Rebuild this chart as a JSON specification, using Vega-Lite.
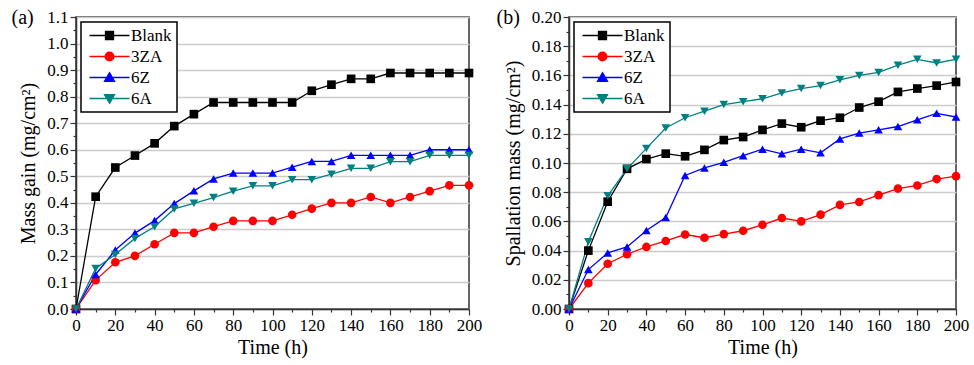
{
  "$schema": "https://vega.github.io/schema/vega-lite/v6.json",
  "background": "white",
  "padding": {"left": 10, "top": 6, "right": 5, "bottom": 4},
  "spacing": 100,
  "bounds": "flush",
  "datasets": {
    "massgain": [
      {"series": "Blank", "t": 0, "v": 0}, {"series": "Blank", "t": 10, "v": 0.423}, {"series": "Blank", "t": 20, "v": 0.533}, {"series": "Blank", "t": 30, "v": 0.578}, {"series": "Blank", "t": 40, "v": 0.624}, {"series": "Blank", "t": 50, "v": 0.689}, {"series": "Blank", "t": 60, "v": 0.734}, {"series": "Blank", "t": 70, "v": 0.778}, {"series": "Blank", "t": 80, "v": 0.778}, {"series": "Blank", "t": 90, "v": 0.778}, {"series": "Blank", "t": 100, "v": 0.778}, {"series": "Blank", "t": 110, "v": 0.778}, {"series": "Blank", "t": 120, "v": 0.822}, {"series": "Blank", "t": 130, "v": 0.845}, {"series": "Blank", "t": 140, "v": 0.867}, {"series": "Blank", "t": 150, "v": 0.867}, {"series": "Blank", "t": 160, "v": 0.889}, {"series": "Blank", "t": 170, "v": 0.889}, {"series": "Blank", "t": 180, "v": 0.889}, {"series": "Blank", "t": 190, "v": 0.889}, {"series": "Blank", "t": 200, "v": 0.889},
      {"series": "3ZA", "t": 0, "v": 0}, {"series": "3ZA", "t": 10, "v": 0.109}, {"series": "3ZA", "t": 20, "v": 0.176}, {"series": "3ZA", "t": 30, "v": 0.2}, {"series": "3ZA", "t": 40, "v": 0.244}, {"series": "3ZA", "t": 50, "v": 0.287}, {"series": "3ZA", "t": 60, "v": 0.287}, {"series": "3ZA", "t": 70, "v": 0.31}, {"series": "3ZA", "t": 80, "v": 0.332}, {"series": "3ZA", "t": 90, "v": 0.332}, {"series": "3ZA", "t": 100, "v": 0.332}, {"series": "3ZA", "t": 110, "v": 0.355}, {"series": "3ZA", "t": 120, "v": 0.378}, {"series": "3ZA", "t": 130, "v": 0.4}, {"series": "3ZA", "t": 140, "v": 0.4}, {"series": "3ZA", "t": 150, "v": 0.422}, {"series": "3ZA", "t": 160, "v": 0.4}, {"series": "3ZA", "t": 170, "v": 0.422}, {"series": "3ZA", "t": 180, "v": 0.444}, {"series": "3ZA", "t": 190, "v": 0.466}, {"series": "3ZA", "t": 200, "v": 0.466},
      {"series": "6Z", "t": 0, "v": 0}, {"series": "6Z", "t": 10, "v": 0.13}, {"series": "6Z", "t": 20, "v": 0.222}, {"series": "6Z", "t": 30, "v": 0.286}, {"series": "6Z", "t": 40, "v": 0.333}, {"series": "6Z", "t": 50, "v": 0.397}, {"series": "6Z", "t": 60, "v": 0.445}, {"series": "6Z", "t": 70, "v": 0.49}, {"series": "6Z", "t": 80, "v": 0.512}, {"series": "6Z", "t": 90, "v": 0.512}, {"series": "6Z", "t": 100, "v": 0.512}, {"series": "6Z", "t": 110, "v": 0.534}, {"series": "6Z", "t": 120, "v": 0.556}, {"series": "6Z", "t": 130, "v": 0.556}, {"series": "6Z", "t": 140, "v": 0.579}, {"series": "6Z", "t": 150, "v": 0.579}, {"series": "6Z", "t": 160, "v": 0.579}, {"series": "6Z", "t": 170, "v": 0.579}, {"series": "6Z", "t": 180, "v": 0.6}, {"series": "6Z", "t": 190, "v": 0.6}, {"series": "6Z", "t": 200, "v": 0.6},
      {"series": "6A", "t": 0, "v": 0}, {"series": "6A", "t": 10, "v": 0.153}, {"series": "6A", "t": 20, "v": 0.205}, {"series": "6A", "t": 30, "v": 0.266}, {"series": "6A", "t": 40, "v": 0.31}, {"series": "6A", "t": 50, "v": 0.377}, {"series": "6A", "t": 60, "v": 0.398}, {"series": "6A", "t": 70, "v": 0.42}, {"series": "6A", "t": 80, "v": 0.444}, {"series": "6A", "t": 90, "v": 0.464}, {"series": "6A", "t": 100, "v": 0.464}, {"series": "6A", "t": 110, "v": 0.487}, {"series": "6A", "t": 120, "v": 0.487}, {"series": "6A", "t": 130, "v": 0.508}, {"series": "6A", "t": 140, "v": 0.53}, {"series": "6A", "t": 150, "v": 0.53}, {"series": "6A", "t": 160, "v": 0.555}, {"series": "6A", "t": 170, "v": 0.555}, {"series": "6A", "t": 180, "v": 0.579}, {"series": "6A", "t": 190, "v": 0.579}, {"series": "6A", "t": 200, "v": 0.579}
    ],
    "spallation": [
      {"series": "Blank", "t": 0, "v": 0}, {"series": "Blank", "t": 10, "v": 0.04}, {"series": "Blank", "t": 20, "v": 0.0735}, {"series": "Blank", "t": 30, "v": 0.096}, {"series": "Blank", "t": 40, "v": 0.1027}, {"series": "Blank", "t": 50, "v": 0.1064}, {"series": "Blank", "t": 60, "v": 0.1046}, {"series": "Blank", "t": 70, "v": 0.109}, {"series": "Blank", "t": 80, "v": 0.1157}, {"series": "Blank", "t": 90, "v": 0.1178}, {"series": "Blank", "t": 100, "v": 0.1227}, {"series": "Blank", "t": 110, "v": 0.127}, {"series": "Blank", "t": 120, "v": 0.1245}, {"series": "Blank", "t": 130, "v": 0.129}, {"series": "Blank", "t": 140, "v": 0.131}, {"series": "Blank", "t": 150, "v": 0.138}, {"series": "Blank", "t": 160, "v": 0.142}, {"series": "Blank", "t": 170, "v": 0.1487}, {"series": "Blank", "t": 180, "v": 0.151}, {"series": "Blank", "t": 190, "v": 0.153}, {"series": "Blank", "t": 200, "v": 0.1555},
      {"series": "3ZA", "t": 0, "v": 0}, {"series": "3ZA", "t": 10, "v": 0.0177}, {"series": "3ZA", "t": 20, "v": 0.031}, {"series": "3ZA", "t": 30, "v": 0.0375}, {"series": "3ZA", "t": 40, "v": 0.0425}, {"series": "3ZA", "t": 50, "v": 0.0466}, {"series": "3ZA", "t": 60, "v": 0.051}, {"series": "3ZA", "t": 70, "v": 0.0488}, {"series": "3ZA", "t": 80, "v": 0.0513}, {"series": "3ZA", "t": 90, "v": 0.0536}, {"series": "3ZA", "t": 100, "v": 0.0577}, {"series": "3ZA", "t": 110, "v": 0.0623}, {"series": "3ZA", "t": 120, "v": 0.06}, {"series": "3ZA", "t": 130, "v": 0.0646}, {"series": "3ZA", "t": 140, "v": 0.0713}, {"series": "3ZA", "t": 150, "v": 0.0733}, {"series": "3ZA", "t": 160, "v": 0.078}, {"series": "3ZA", "t": 170, "v": 0.0825}, {"series": "3ZA", "t": 180, "v": 0.0846}, {"series": "3ZA", "t": 190, "v": 0.089}, {"series": "3ZA", "t": 200, "v": 0.091},
      {"series": "6Z", "t": 0, "v": 0}, {"series": "6Z", "t": 10, "v": 0.027}, {"series": "6Z", "t": 20, "v": 0.0384}, {"series": "6Z", "t": 30, "v": 0.0425}, {"series": "6Z", "t": 40, "v": 0.0538}, {"series": "6Z", "t": 50, "v": 0.0627}, {"series": "6Z", "t": 60, "v": 0.0915}, {"series": "6Z", "t": 70, "v": 0.0966}, {"series": "6Z", "t": 80, "v": 0.1005}, {"series": "6Z", "t": 90, "v": 0.105}, {"series": "6Z", "t": 100, "v": 0.1095}, {"series": "6Z", "t": 110, "v": 0.1063}, {"series": "6Z", "t": 120, "v": 0.1095}, {"series": "6Z", "t": 130, "v": 0.107}, {"series": "6Z", "t": 140, "v": 0.1165}, {"series": "6Z", "t": 150, "v": 0.1205}, {"series": "6Z", "t": 160, "v": 0.1227}, {"series": "6Z", "t": 170, "v": 0.125}, {"series": "6Z", "t": 180, "v": 0.1296}, {"series": "6Z", "t": 190, "v": 0.134}, {"series": "6Z", "t": 200, "v": 0.1315},
      {"series": "6A", "t": 0, "v": 0}, {"series": "6A", "t": 10, "v": 0.046}, {"series": "6A", "t": 20, "v": 0.0775}, {"series": "6A", "t": 30, "v": 0.096}, {"series": "6A", "t": 40, "v": 0.11}, {"series": "6A", "t": 50, "v": 0.124}, {"series": "6A", "t": 60, "v": 0.131}, {"series": "6A", "t": 70, "v": 0.1355}, {"series": "6A", "t": 80, "v": 0.14}, {"series": "6A", "t": 90, "v": 0.142}, {"series": "6A", "t": 100, "v": 0.144}, {"series": "6A", "t": 110, "v": 0.148}, {"series": "6A", "t": 120, "v": 0.151}, {"series": "6A", "t": 130, "v": 0.153}, {"series": "6A", "t": 140, "v": 0.157}, {"series": "6A", "t": 150, "v": 0.16}, {"series": "6A", "t": 160, "v": 0.162}, {"series": "6A", "t": 170, "v": 0.167}, {"series": "6A", "t": 180, "v": 0.171}, {"series": "6A", "t": 190, "v": 0.1685}, {"series": "6A", "t": 200, "v": 0.171}
    ]
  },
  "hconcat": [
    {
      "width": 393,
      "height": 292,
      "data": {"name": "massgain"},
      "encoding": {
        "y": {"field": "v", "type": "quantitative", "title": "Mass gain (mg/cm²)",
          "scale": {"domain": [0, 1.1], "nice": false},
          "axis": {"values": [0,0.05,0.1,0.15,0.2,0.25,0.3,0.35,0.4,0.45,0.5,0.55,0.6,0.65,0.7,0.75,0.8,0.85,0.9,0.95,1,1.05,1.1],
            "labelExpr": "round(datum.value*20) % 2 == 0 ? format(datum.value, '.1f') : ''",
            "tickSize": {"condition": {"test": "round(datum.value*20) % 2 == 0", "value": 6}, "value": 3},
            "gridOpacity": {"condition": {"test": "round(datum.value*20) % 2 == 0", "value": 1}, "value": 0},
            "titleFontWeight": "normal",
            "grid": true}}
      },
      "resolve": {"axis": {"x": "independent"}},
      "layer": [
        {"mark": {"type": "line", "strokeWidth": 1.3},
          "encoding": {
            "x": {"field": "t", "type": "quantitative", "title": "Time (h)",
              "scale": {"domain": [0, 200], "nice": false},
              "axis": {"values": [0,10,20,30,40,50,60,70,80,90,100,110,120,130,140,150,160,170,180,190,200],
                "labelExpr": "datum.value % 20 == 0 ? datum.label : ''",
                "tickSize": {"condition": {"test": "datum.value % 20 == 0", "value": 6}, "value": 3},
                "titleFontWeight": "normal",
                "grid": false}},
            "stroke": {"field": "series", "type": "nominal",
              "scale": {"domain": ["Blank", "3ZA", "6Z", "6A"], "range": ["#000000", "#ff0000", "#0000ff", "#008080"]},
              "legend": null}}},
        {"mark": {"type": "point", "filled": true, "opacity": 1, "size": 75},
          "encoding": {
            "x": {"field": "t", "type": "quantitative",
              "axis": {"orient": "top", "title": "(a)", "titleX": -65, "titleY": 0, "titleAngle": 0, "titleAlign": "left", "titleBaseline": "middle", "titleFontSize": 20, "titleFontWeight": "normal", "titlePadding": 0, "labels": false, "ticks": false, "domain": false, "grid": false}},
            "fill": {"field": "series", "type": "nominal", "sort": ["Blank", "3ZA", "6Z", "6A"],
              "scale": {"range": ["#000000", "#ff0000", "#0000ff", "#008080"]},
              "legend": {"orient": "top-left", "offset": 5, "title": null, "symbolSize": 64, "symbolStrokeWidth": 1.3, "symbolOffset": 15, "labelFont": "Liberation Serif", "labelFontSize": 17, "labelOffset": 13, "labelColor": "#000", "rowPadding": 3, "padding": 5, "strokeColor": "#000", "fillColor": "white", "symbolOpacity": 1,
                "encode": {
                  "legend": {"update": {"strokeWidth": {"value": 1.5}}},
                  "symbols": {"update": {
                    "shape": {"signal": "datum.value == 'Blank' ? 'M-5,0H5M-1,-1H1V1H-1Z' : datum.value == '3ZA' ? 'M-5,0H5M1.1,0A1.1,1.1,0,1,1,-1.1,0A1.1,1.1,0,1,1,1.1,0Z' : datum.value == '6Z' ? 'M-5,0H5M0,-1.2L1.25,0.95L-1.25,0.95Z' : 'M-5,0H5M0,1.2L1.25,-0.95L-1.25,-0.95Z'"},
                    "stroke": {"signal": "datum.value == 'Blank' ? '#000000' : datum.value == '3ZA' ? '#ff0000' : datum.value == '6Z' ? '#0000ff' : '#008080'"}
                  }}
                }}},
            "shape": {"field": "series", "type": "nominal", "sort": ["Blank", "3ZA", "6Z", "6A"],
              "scale": {"range": ["square", "circle", "triangle-up", "triangle-down"]},
              "legend": null}
          }}
      ]
    },
    {
      "width": 387,
      "height": 292,
      "data": {"name": "spallation"},
      "encoding": {
        "y": {"field": "v", "type": "quantitative", "title": "Spallation mass (mg/cm²)",
          "scale": {"domain": [0, 0.2], "nice": false},
          "axis": {"values": [0,0.01,0.02,0.03,0.04,0.05,0.06,0.07,0.08,0.09,0.1,0.11,0.12,0.13,0.14,0.15,0.16,0.17,0.18,0.19,0.2],
            "labelExpr": "round(datum.value*100) % 2 == 0 ? format(datum.value, '.2f') : ''",
            "tickSize": {"condition": {"test": "round(datum.value*100) % 2 == 0", "value": 6}, "value": 3},
            "gridOpacity": {"condition": {"test": "round(datum.value*100) % 2 == 0", "value": 1}, "value": 0},
            "titleFontWeight": "normal",
            "grid": true}}
      },
      "resolve": {"axis": {"x": "independent"}},
      "layer": [
        {"mark": {"type": "line", "strokeWidth": 1.3},
          "encoding": {
            "x": {"field": "t", "type": "quantitative", "title": "Time (h)",
              "scale": {"domain": [0, 200], "nice": false},
              "axis": {"values": [0,10,20,30,40,50,60,70,80,90,100,110,120,130,140,150,160,170,180,190,200],
                "labelExpr": "datum.value % 20 == 0 ? datum.label : ''",
                "tickSize": {"condition": {"test": "datum.value % 20 == 0", "value": 6}, "value": 3},
                "titleFontWeight": "normal",
                "grid": false}},
            "stroke": {"field": "series", "type": "nominal",
              "scale": {"domain": ["Blank", "3ZA", "6Z", "6A"], "range": ["#000000", "#ff0000", "#0000ff", "#008080"]},
              "legend": null}}},
        {"mark": {"type": "point", "filled": true, "opacity": 1, "size": 75},
          "encoding": {
            "x": {"field": "t", "type": "quantitative",
              "axis": {"orient": "top", "title": "(b)", "titleX": -73, "titleY": 0, "titleAngle": 0, "titleAlign": "left", "titleBaseline": "middle", "titleFontSize": 20, "titleFontWeight": "normal", "titlePadding": 0, "labels": false, "ticks": false, "domain": false, "grid": false}},
            "fill": {"field": "series", "type": "nominal", "sort": ["Blank", "3ZA", "6Z", "6A"],
              "scale": {"range": ["#000000", "#ff0000", "#0000ff", "#008080"]},
              "legend": {"orient": "top-left", "offset": 5, "title": null, "symbolSize": 64, "symbolStrokeWidth": 1.3, "symbolOffset": 15, "labelFont": "Liberation Serif", "labelFontSize": 17, "labelOffset": 13, "labelColor": "#000", "rowPadding": 3, "padding": 5, "strokeColor": "#000", "fillColor": "white", "symbolOpacity": 1,
                "encode": {
                  "legend": {"update": {"strokeWidth": {"value": 1.5}}},
                  "symbols": {"update": {
                    "shape": {"signal": "datum.value == 'Blank' ? 'M-5,0H5M-1,-1H1V1H-1Z' : datum.value == '3ZA' ? 'M-5,0H5M1.1,0A1.1,1.1,0,1,1,-1.1,0A1.1,1.1,0,1,1,1.1,0Z' : datum.value == '6Z' ? 'M-5,0H5M0,-1.2L1.25,0.95L-1.25,0.95Z' : 'M-5,0H5M0,1.2L1.25,-0.95L-1.25,-0.95Z'"},
                    "stroke": {"signal": "datum.value == 'Blank' ? '#000000' : datum.value == '3ZA' ? '#ff0000' : datum.value == '6Z' ? '#0000ff' : '#008080'"}
                  }}
                }}},
            "shape": {"field": "series", "type": "nominal", "sort": ["Blank", "3ZA", "6Z", "6A"],
              "scale": {"range": ["square", "circle", "triangle-up", "triangle-down"]},
              "legend": null}
          }}
      ]
    }
  ],
  "resolve": {
    "scale": {"stroke": "independent", "fill": "independent", "shape": "independent"},
    "legend": {"stroke": "independent", "fill": "independent", "shape": "independent"}
  },
  "config": {
    "font": "Liberation Serif",
    "view": {"stroke": "#333333", "strokeWidth": 1.5},
    "axis": {
      "domainColor": "#333333", "domainWidth": 1.5,
      "tickColor": "#333333", "tickWidth": 1.2,
      "gridColor": "#cccccc", "gridWidth": 1.5,
      "labelFont": "Liberation Serif", "labelFontSize": 17, "labelColor": "#000000", "labelPadding": 2,
      "titleFont": "Liberation Serif", "titleFontSize": 20, "titleFontWeight": "normal", "titleColor": "#000000",
      "labelOverlap": false, "labelFlush": false
    },
    "axisX": {"titlePadding": 4},
    "axisY": {"titlePadding": 8}
  }
}
